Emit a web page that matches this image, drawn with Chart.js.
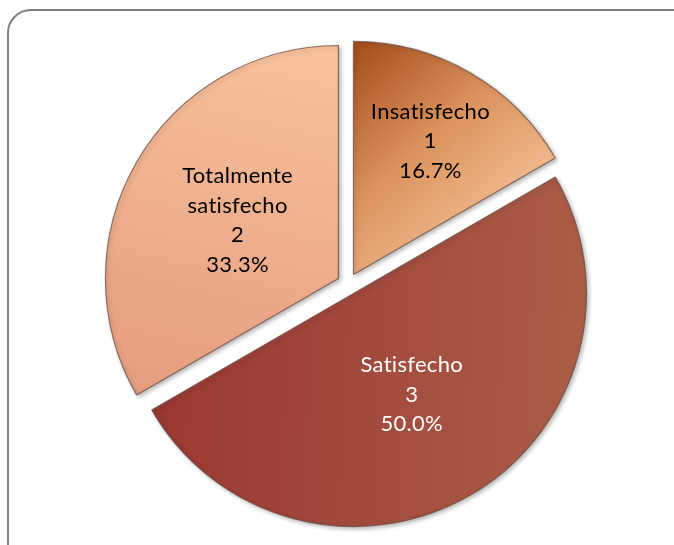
<!DOCTYPE html>
<html>
<head>
<meta charset="utf-8">
<script src="https://cdn.jsdelivr.net/npm/chart.js@4.4.1/dist/chart.umd.min.js"></script>
<style>
	html, body { margin: 0; padding: 0; background: #fff; overflow: hidden; }
	#wrap { position: relative; width: 674px; height: 545px; }
	#frame {
		position: absolute; left: 7px; top: 9px; width: 690px; height: 560px;
		border: 2px solid #7f7f7f; border-radius: 24px; box-sizing: border-box;
	}
	#pie { position: absolute; left: 0; top: 0; }
</style>
</head>
<body>
<div id="wrap">
	<div id="frame"></div>
	<canvas id="pie" width="674" height="545"></canvas>
</div>
<script>
// data, clockwise from 12 o'clock
const categories = ['Insatisfecho', 'Satisfecho', 'Totalmente satisfecho'];
const labelLines = [['Insatisfecho'], ['Satisfecho'], ['Totalmente', 'satisfecho']];
const counts = [1, 3, 2];
const textColors = ['#000000', '#ffffff', '#000000'];
const labelRadius = [0.66, 0.5, 0.5];

const PIE_RADIUS = 233;
const EXPLODE = 11;

function sliceGradient(context) {
	const chart = context.chart;
	const area = chart.chartArea;
	if (!area) return '#cccccc';
	const cx = (area.left + area.right) / 2;
	const cy = (area.top + area.bottom) / 2;
	const r = PIE_RADIUS;
	const ctx = chart.ctx;
	let g;
	if (context.dataIndex === 0) {
		g = ctx.createLinearGradient(cx, cy - r, cx + 0.75 * r, cy - 0.15 * r);
		g.addColorStop(0, '#a44e1b');
		g.addColorStop(0.45, '#db925d');
		g.addColorStop(1, '#f9cba3');
	} else if (context.dataIndex === 1) {
		g = ctx.createLinearGradient(cx - 0.8 * r, cy + 0.4 * r, cx + r, cy + 0.5 * r);
		g.addColorStop(0, '#9a3832');
		g.addColorStop(1, '#aa5d47');
	} else {
		g = ctx.createLinearGradient(cx - 0.2 * r, cy - r, cx - 0.6 * r, cy + 0.6 * r);
		g.addColorStop(0, '#f8c19c');
		g.addColorStop(1, '#e59c7e');
	}
	return g;
}

// pull every slice out along its middle angle by the same distance
const explodePlugin = {
	id: 'explode',
	afterDatasetUpdate(chart, args) {
		const meta = chart.getDatasetMeta(args.index);
		meta.data.forEach(arc => {
			const mid = (arc.startAngle + arc.endAngle) / 2;
			arc.x += Math.cos(mid) * EXPLODE;
			arc.y += Math.sin(mid) * EXPLODE;
		});
	}
};

const shadowPlugin = {
	id: 'sliceShadow',
	beforeDatasetDraw(chart) {
		const ctx = chart.ctx;
		ctx.save();
		ctx.shadowColor = 'rgba(0,0,0,0.28)';
		ctx.shadowBlur = 4;
		ctx.shadowOffsetX = 2;
		ctx.shadowOffsetY = 2;
	},
	afterDatasetDraw(chart) {
		chart.ctx.restore();
	}
};

const sliceLabels = {
	id: 'sliceLabels',
	afterDatasetsDraw(chart) {
		const ctx = chart.ctx;
		const meta = chart.getDatasetMeta(0);
		const total = counts.reduce((a, b) => a + b, 0);
		ctx.save();
		ctx.font = '22px Lato, "Open Sans", sans-serif';
		ctx.letterSpacing = '0.3px'; // also keeps Lato from joining "ti"
		ctx.textAlign = 'center';
		ctx.textBaseline = 'middle';
		meta.data.forEach((arc, i) => {
			const mid = (arc.startAngle + arc.endAngle) / 2;
			const rr = arc.outerRadius * labelRadius[i];
			const x = arc.x + Math.cos(mid) * rr;
			const y = arc.y + Math.sin(mid) * rr;
			const lines = labelLines[i].concat([String(counts[i]), (counts[i] / total * 100).toFixed(1) + '%']);
			const lh = 29.5;
			const y0 = y - (lines.length - 1) * lh / 2;
			ctx.fillStyle = textColors[i];
			lines.forEach((t, k) => ctx.fillText(t, x, y0 + k * lh));
		});
		ctx.restore();
	}
};

new Chart(document.getElementById('pie'), {
	type: 'pie',
	data: {
		labels: categories,
		datasets: [{
			data: counts,
			backgroundColor: sliceGradient,
			borderColor: 'rgba(105,75,65,0.75)',
			borderWidth: 1.2
		}]
	},
	options: {
		responsive: false,
		animation: false,
		radius: PIE_RADIUS,
		layout: { padding: { left: 22, right: 0, top: 23, bottom: 0 } },
		plugins: {
			legend: { display: false },
			tooltip: { enabled: false }
		}
	},
	plugins: [explodePlugin, shadowPlugin, sliceLabels]
});
</script>
</body>
</html>
